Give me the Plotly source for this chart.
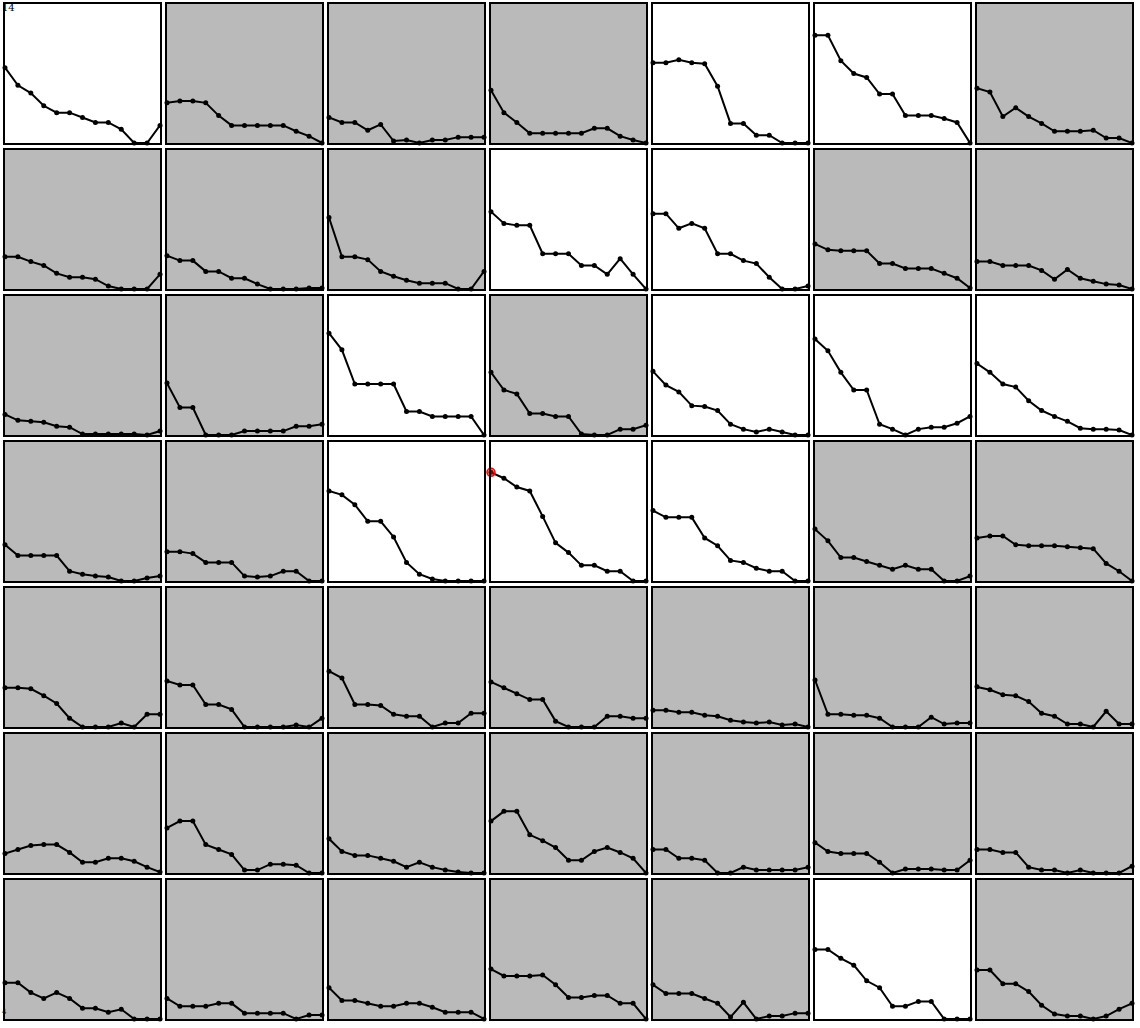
import plotly.graph_objects as go

# x positions (13 samples per panel)
x_steps = list(range(13))

# values per panel, row by row (7 panels per row)
row0 = [
    [77, 59, 51, 38, 31, 31, 26, 21, 21, 14, 0, 0, 18],
    [41, 43, 43, 41, 28, 18, 18, 18, 18, 18, 12, 7, 0],
    [26, 21, 21, 13, 19, 2, 3, 0, 3, 3, 6, 6, 6],
    [54, 31, 21, 10, 10, 10, 10, 10, 15, 15, 7, 3, 0],
    [82, 82, 85, 82, 81, 58, 20, 20, 8, 8, 0, 0, 0],
    [110, 110, 84, 71, 67, 50, 50, 28, 28, 28, 25, 21, 0],
    [56, 52, 27, 36, 27, 20, 12, 12, 12, 13, 5, 5, 0],
]
row1 = [
    [33, 33, 28, 24, 16, 12, 12, 10, 3, 0, 0, 0, 15],
    [34, 29, 29, 18, 18, 11, 11, 5, 0, 0, 0, 1, 1],
    [73, 33, 33, 30, 18, 13, 9, 6, 6, 6, 0, 0, 18],
    [79, 67, 65, 65, 36, 36, 36, 24, 24, 15, 31, 15, 0],
    [77, 77, 62, 67, 62, 36, 36, 29, 26, 12, 0, 0, 3],
    [46, 40, 39, 39, 39, 26, 26, 21, 21, 21, 16, 11, 1],
    [28, 28, 24, 24, 24, 19, 10, 20, 11, 8, 5, 4, 0],
]
row2 = [
    [21, 15, 14, 13, 9, 8, 1, 1, 1, 1, 1, 0, 4],
    [53, 28, 28, 0, 0, 0, 4, 4, 4, 4, 9, 9, 11],
    [104, 87, 52, 52, 52, 52, 24, 24, 19, 19, 19, 19, 0],
    [64, 46, 42, 22, 22, 19, 19, 1, 0, 0, 6, 6, 10],
    [65, 51, 44, 30, 29, 25, 11, 6, 3, 6, 3, 0, 0],
    [98, 86, 64, 46, 46, 11, 6, 0, 6, 8, 8, 12, 19],
    [73, 64, 52, 49, 35, 25, 19, 14, 7, 6, 6, 5, 0],
]
row3 = [
    [37, 26, 26, 26, 26, 10, 7, 5, 4, 0, 0, 3, 5],
    [30, 30, 28, 19, 19, 19, 5, 4, 5, 10, 10, 0, 0],
    [92, 88, 78, 61, 61, 45, 19, 7, 2, 0, 0, 0, 0],
    [111, 105, 96, 92, 66, 39, 29, 16, 16, 10, 10, 0, 0],
    [72, 65, 65, 65, 44, 36, 21, 19, 13, 10, 10, 0, 0],
    [53, 41, 24, 24, 20, 16, 12, 16, 12, 12, 0, 0, 5],
    [44, 46, 46, 37, 36, 36, 36, 35, 34, 33, 18, 10, 0],
]
row4 = [
    [40, 40, 39, 32, 24, 9, 0, 0, 0, 4, 0, 13, 13],
    [47, 43, 43, 23, 23, 18, 0, 0, 0, 0, 2, 0, 9],
    [57, 50, 23, 23, 22, 13, 11, 11, 0, 4, 4, 14, 14],
    [46, 40, 34, 28, 28, 6, 0, 0, 0, 11, 11, 9, 9],
    [17, 17, 15, 15, 12, 11, 7, 5, 4, 5, 2, 3, 0],
    [48, 13, 13, 12, 12, 9, 0, 0, 0, 10, 3, 4, 4],
    [41, 38, 33, 32, 26, 14, 11, 3, 3, 0, 16, 3, 3],
]
row5 = [
    [20, 24, 28, 29, 29, 21, 11, 11, 15, 15, 12, 6, 1],
    [46, 53, 53, 29, 24, 19, 3, 3, 9, 9, 8, 0, 0],
    [35, 22, 18, 18, 15, 12, 6, 11, 6, 3, 1, 0, 0],
    [53, 63, 63, 39, 33, 26, 13, 13, 22, 26, 21, 15, 0],
    [24, 24, 15, 15, 13, 0, 0, 6, 3, 3, 3, 3, 6],
    [31, 22, 20, 20, 20, 11, 0, 4, 4, 4, 3, 3, 13],
    [24, 24, 21, 21, 6, 3, 3, 0, 3, 0, 0, 0, 7],
]
row6 = [
    [37, 37, 27, 21, 27, 21, 11, 11, 7, 10, 0, 0, 0],
    [21, 13, 13, 13, 16, 16, 6, 6, 6, 6, 0, 4, 4],
    [32, 19, 19, 16, 13, 13, 16, 16, 12, 7, 7, 7, 0],
    [51, 44, 44, 44, 45, 35, 22, 22, 24, 24, 16, 16, 0],
    [35, 26, 26, 26, 21, 16, 2, 17, 0, 3, 3, 6, 6],
    [71, 71, 62, 55, 39, 32, 13, 13, 18, 18, 0, 0, 0],
    [50, 50, 36, 36, 28, 14, 5, 3, 3, 0, 3, 10, 16],
]
rows = [row0, row1, row2, row3, row4, row5, row6]

# panels drawn with white background (row, col)
white_panels = [(0, 0), (0, 4), (0, 5), (1, 3), (1, 4), (2, 2), (2, 4),
                (2, 5), (2, 6), (3, 2), (3, 3), (3, 4), (6, 5)]
# highlighted point: (row, col, index)
highlight = (3, 3, 0)

y_max = 142

W, H = 1140, 1028
fig = go.Figure()

for r, row in enumerate(rows):
    for c, vals in enumerate(row):
        k = r * 7 + c + 1
        xa = "x" if k == 1 else f"x{k}"
        ya = "y" if k == 1 else f"y{k}"
        left = 5 + 162 * c
        right = left + 155
        top = 4 + 146 * r
        bottom = top + 139
        fig.add_trace(go.Scatter(
            x=x_steps, y=vals, xaxis=xa, yaxis=ya, mode="lines+markers",
            line=dict(color="black", width=2),
            marker=dict(color="black", size=5),
            cliponaxis=False, showlegend=False, hoverinfo="skip"))
        bg = "white" if (r, c) in white_panels else "#bababa"
        axkw = dict(showgrid=False, zeroline=False, showticklabels=False,
                    ticks="", showline=True, mirror=True, linecolor="black",
                    linewidth=2, fixedrange=True)
        fig.layout[("xaxis" if k == 1 else f"xaxis{k}")] = dict(
            domain=[left / W, right / W], range=[0, 12],
            anchor=ya, **axkw)
        fig.layout[("yaxis" if k == 1 else f"yaxis{k}")] = dict(
            domain=[1 - bottom / H, 1 - top / H], range=[0, y_max],
            anchor=xa, **axkw)
        fig.add_shape(type="rect", xref=f"{xa} domain", yref=f"{ya} domain",
                      x0=0, x1=1, y0=0, y1=1, fillcolor=bg, line_width=0,
                      layer="below")
        if (r, c) == highlight[:2]:
            i = highlight[2]
            fig.add_trace(go.Scatter(
                x=[x_steps[i]], y=[vals[i]], xaxis=xa, yaxis=ya, mode="markers",
                marker=dict(color="rgba(255,0,0,0.5)", size=8,
                            line=dict(color="red", width=1.5)),
                cliponaxis=False, showlegend=False, hoverinfo="skip"))

fig.add_annotation(text="14", x=0, y=1, xref="paper", yref="paper",
                   xanchor="left", yanchor="top", showarrow=False,
                   font=dict(family="DejaVu Serif", size=10, color="black"))
fig.add_annotation(text="4", x=0, y=1 - 1006 / H, xref="paper", yref="paper",
                   xanchor="left", yanchor="top", showarrow=False,
                   font=dict(family="DejaVu Serif", size=7, color="black"))

fig.update_layout(width=W, height=H, margin=dict(l=0, r=0, t=0, b=0),
                  paper_bgcolor="white", plot_bgcolor="rgba(0,0,0,0)")

fig.write_html("out.html", config={"displayModeBar": False},
               post_script="document.body.style.margin='0';")
